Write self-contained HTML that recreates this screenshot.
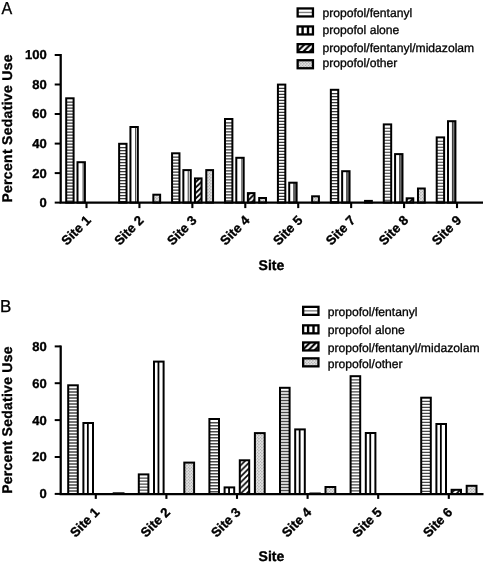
<!DOCTYPE html>
<html lang="en"><head><meta charset="utf-8"><title>Percent Sedative Use by Site</title>
<style>html,body{margin:0;padding:0;background:#fff;}svg{display:block;will-change:transform;transform:translateZ(0);}text{text-rendering:geometricPrecision;}text{font-family:"Liberation Sans", Arial, sans-serif;fill:#000;}.r{stroke:#000;stroke-width:0.3px;}.b{font-weight:bold;stroke:#000;stroke-width:0.35px;}</style>
</head><body>
<svg width="485" height="563" viewBox="0 0 485 563">
<defs>
<pattern id="pda" patternUnits="userSpaceOnUse" x="195.25" y="182.60" width="5.44" height="5.44"><rect width="5.44" height="5.44" fill="#fff"/><path d="M-1.36,1.36 L1.36,-1.36 M0,5.44 L5.44,0 M4.08,6.80 L6.80,4.08" stroke="#000" stroke-width="1.80"/></pattern>
<pattern id="pdb" patternUnits="userSpaceOnUse" x="240.40" y="465.60" width="5.68" height="5.68"><rect width="5.68" height="5.68" fill="#fff"/><path d="M-1.42,1.42 L1.42,-1.42 M0,5.68 L5.68,0 M4.26,7.10 L7.10,4.26" stroke="#000" stroke-width="1.65"/></pattern>
<pattern id="pdla" patternUnits="userSpaceOnUse" x="311.90" y="43.10" width="6.10" height="6.10"><rect width="6.10" height="6.10" fill="#fff"/><path d="M-1.52,1.52 L1.52,-1.52 M0,6.10 L6.10,0 M4.57,7.62 L7.62,4.57" stroke="#000" stroke-width="2.05"/></pattern>
<pattern id="pdlb" patternUnits="userSpaceOnUse" x="317.40" y="341.30" width="6.10" height="6.10"><rect width="6.10" height="6.10" fill="#fff"/><path d="M-1.52,1.52 L1.52,-1.52 M0,6.10 L6.10,0 M4.57,7.62 L7.62,4.57" stroke="#000" stroke-width="2.05"/></pattern>
<pattern id="po" patternUnits="userSpaceOnUse" x="0.3" y="0.2" width="3" height="3"><rect width="3" height="3" fill="#fbfbfb"/><circle cx="0.75" cy="0.75" r="0.72" fill="#7c7c7c"/><circle cx="2.25" cy="2.25" r="0.72" fill="#7c7c7c"/></pattern>
</defs>
<rect width="485" height="563" fill="#fff"/>
<text transform="translate(1.5,13.8) scale(0.93,1)" font-size="17.3" class="r">A</text>
<rect x="66.20" y="98.30" width="7.40" height="104.30" fill="#fdfdfd"/>
<path d="M66.20,102.10h7.40M66.20,105.10h7.40M66.20,108.10h7.40M66.20,111.10h7.40M66.20,114.10h7.40M66.20,117.10h7.40M66.20,120.10h7.40M66.20,123.10h7.40M66.20,126.10h7.40M66.20,129.10h7.40M66.20,132.10h7.40M66.20,135.10h7.40M66.20,138.10h7.40M66.20,141.10h7.40M66.20,144.10h7.40M66.20,147.10h7.40M66.20,150.10h7.40M66.20,153.10h7.40M66.20,156.10h7.40M66.20,159.10h7.40M66.20,162.10h7.40M66.20,165.10h7.40M66.20,168.10h7.40M66.20,171.10h7.40M66.20,174.10h7.40M66.20,177.10h7.40M66.20,180.10h7.40M66.20,183.10h7.40M66.20,186.10h7.40M66.20,189.10h7.40M66.20,192.10h7.40M66.20,195.10h7.40M66.20,198.10h7.40M66.20,201.10h7.40" stroke="#383838" stroke-width="1.15" fill="none"/>
<rect x="66.20" y="98.30" width="7.40" height="104.30" fill="none" stroke="#000" stroke-width="2"/>
<rect x="77.50" y="162.20" width="7.40" height="40.40" fill="#fff"/>
<rect x="82.60" y="162.20" width="1.00" height="40.40" fill="#333"/>
<rect x="77.50" y="162.20" width="7.40" height="40.40" fill="none" stroke="#000" stroke-width="2"/>
<rect x="119.13" y="143.80" width="7.40" height="58.80" fill="#fdfdfd"/>
<path d="M119.13,147.60h7.40M119.13,150.60h7.40M119.13,153.60h7.40M119.13,156.60h7.40M119.13,159.60h7.40M119.13,162.60h7.40M119.13,165.60h7.40M119.13,168.60h7.40M119.13,171.60h7.40M119.13,174.60h7.40M119.13,177.60h7.40M119.13,180.60h7.40M119.13,183.60h7.40M119.13,186.60h7.40M119.13,189.60h7.40M119.13,192.60h7.40M119.13,195.60h7.40M119.13,198.60h7.40M119.13,201.60h7.40" stroke="#383838" stroke-width="1.15" fill="none"/>
<rect x="119.13" y="143.80" width="7.40" height="58.80" fill="none" stroke="#000" stroke-width="2"/>
<rect x="130.43" y="127.00" width="7.40" height="75.60" fill="#fff"/>
<rect x="135.13" y="127.00" width="1.00" height="75.60" fill="#333"/>
<rect x="130.43" y="127.00" width="7.40" height="75.60" fill="none" stroke="#000" stroke-width="2"/>
<rect x="153.33" y="194.70" width="6.80" height="7.90" fill="url(#po)" stroke="#000" stroke-width="2"/>
<rect x="172.06" y="153.30" width="7.40" height="49.30" fill="#fdfdfd"/>
<path d="M172.06,157.10h7.40M172.06,160.10h7.40M172.06,163.10h7.40M172.06,166.10h7.40M172.06,169.10h7.40M172.06,172.10h7.40M172.06,175.10h7.40M172.06,178.10h7.40M172.06,181.10h7.40M172.06,184.10h7.40M172.06,187.10h7.40M172.06,190.10h7.40M172.06,193.10h7.40M172.06,196.10h7.40M172.06,199.10h7.40M172.06,202.10h7.40" stroke="#383838" stroke-width="1.15" fill="none"/>
<rect x="172.06" y="153.30" width="7.40" height="49.30" fill="none" stroke="#000" stroke-width="2"/>
<rect x="183.36" y="170.10" width="7.40" height="32.50" fill="#fff"/>
<rect x="187.71" y="170.10" width="1.00" height="32.50" fill="#333"/>
<rect x="183.36" y="170.10" width="7.40" height="32.50" fill="none" stroke="#000" stroke-width="2"/>
<rect x="194.96" y="178.40" width="6.60" height="24.20" fill="url(#pda)" stroke="#000" stroke-width="2"/>
<rect x="206.26" y="170.10" width="6.80" height="32.50" fill="url(#po)" stroke="#000" stroke-width="2"/>
<rect x="224.99" y="119.00" width="7.40" height="83.60" fill="#fdfdfd"/>
<path d="M224.99,122.80h7.40M224.99,125.80h7.40M224.99,128.80h7.40M224.99,131.80h7.40M224.99,134.80h7.40M224.99,137.80h7.40M224.99,140.80h7.40M224.99,143.80h7.40M224.99,146.80h7.40M224.99,149.80h7.40M224.99,152.80h7.40M224.99,155.80h7.40M224.99,158.80h7.40M224.99,161.80h7.40M224.99,164.80h7.40M224.99,167.80h7.40M224.99,170.80h7.40M224.99,173.80h7.40M224.99,176.80h7.40M224.99,179.80h7.40M224.99,182.80h7.40M224.99,185.80h7.40M224.99,188.80h7.40M224.99,191.80h7.40M224.99,194.80h7.40M224.99,197.80h7.40M224.99,200.80h7.40" stroke="#383838" stroke-width="1.15" fill="none"/>
<rect x="224.99" y="119.00" width="7.40" height="83.60" fill="none" stroke="#000" stroke-width="2"/>
<rect x="236.29" y="157.80" width="7.40" height="44.80" fill="#fff"/>
<rect x="241.39" y="157.80" width="1.00" height="44.80" fill="#333"/>
<rect x="236.29" y="157.80" width="7.40" height="44.80" fill="none" stroke="#000" stroke-width="2"/>
<rect x="247.89" y="193.10" width="6.60" height="9.50" fill="url(#pda)" stroke="#000" stroke-width="2"/>
<rect x="259.19" y="198.00" width="6.80" height="4.60" fill="url(#po)" stroke="#000" stroke-width="2"/>
<rect x="277.92" y="84.60" width="7.40" height="118.00" fill="#fdfdfd"/>
<path d="M277.92,88.40h7.40M277.92,91.40h7.40M277.92,94.40h7.40M277.92,97.40h7.40M277.92,100.40h7.40M277.92,103.40h7.40M277.92,106.40h7.40M277.92,109.40h7.40M277.92,112.40h7.40M277.92,115.40h7.40M277.92,118.40h7.40M277.92,121.40h7.40M277.92,124.40h7.40M277.92,127.40h7.40M277.92,130.40h7.40M277.92,133.40h7.40M277.92,136.40h7.40M277.92,139.40h7.40M277.92,142.40h7.40M277.92,145.40h7.40M277.92,148.40h7.40M277.92,151.40h7.40M277.92,154.40h7.40M277.92,157.40h7.40M277.92,160.40h7.40M277.92,163.40h7.40M277.92,166.40h7.40M277.92,169.40h7.40M277.92,172.40h7.40M277.92,175.40h7.40M277.92,178.40h7.40M277.92,181.40h7.40M277.92,184.40h7.40M277.92,187.40h7.40M277.92,190.40h7.40M277.92,193.40h7.40M277.92,196.40h7.40M277.92,199.40h7.40M277.92,202.40h7.40" stroke="#383838" stroke-width="1.15" fill="none"/>
<rect x="277.92" y="84.60" width="7.40" height="118.00" fill="none" stroke="#000" stroke-width="2"/>
<rect x="289.22" y="182.70" width="7.40" height="19.90" fill="#fff"/>
<rect x="293.82" y="182.70" width="2.80" height="19.90" fill="#777"/>
<rect x="293.32" y="182.70" width="1.00" height="19.90" fill="#333"/>
<rect x="289.22" y="182.70" width="7.40" height="19.90" fill="none" stroke="#000" stroke-width="2"/>
<rect x="312.12" y="196.30" width="6.80" height="6.30" fill="url(#po)" stroke="#000" stroke-width="2"/>
<rect x="330.85" y="89.80" width="7.40" height="112.80" fill="#fdfdfd"/>
<path d="M330.85,93.60h7.40M330.85,96.60h7.40M330.85,99.60h7.40M330.85,102.60h7.40M330.85,105.60h7.40M330.85,108.60h7.40M330.85,111.60h7.40M330.85,114.60h7.40M330.85,117.60h7.40M330.85,120.60h7.40M330.85,123.60h7.40M330.85,126.60h7.40M330.85,129.60h7.40M330.85,132.60h7.40M330.85,135.60h7.40M330.85,138.60h7.40M330.85,141.60h7.40M330.85,144.60h7.40M330.85,147.60h7.40M330.85,150.60h7.40M330.85,153.60h7.40M330.85,156.60h7.40M330.85,159.60h7.40M330.85,162.60h7.40M330.85,165.60h7.40M330.85,168.60h7.40M330.85,171.60h7.40M330.85,174.60h7.40M330.85,177.60h7.40M330.85,180.60h7.40M330.85,183.60h7.40M330.85,186.60h7.40M330.85,189.60h7.40M330.85,192.60h7.40M330.85,195.60h7.40M330.85,198.60h7.40M330.85,201.60h7.40" stroke="#383838" stroke-width="1.15" fill="none"/>
<rect x="330.85" y="89.80" width="7.40" height="112.80" fill="none" stroke="#000" stroke-width="2"/>
<rect x="342.15" y="171.20" width="7.40" height="31.40" fill="#fff"/>
<rect x="346.75" y="171.20" width="2.80" height="31.40" fill="#777"/>
<rect x="346.25" y="171.20" width="1.00" height="31.40" fill="#333"/>
<rect x="342.15" y="171.20" width="7.40" height="31.40" fill="none" stroke="#000" stroke-width="2"/>
<rect x="365.05" y="200.90" width="6.80" height="1.70" fill="url(#po)" stroke="#000" stroke-width="2"/>
<rect x="383.78" y="124.40" width="7.40" height="78.20" fill="#fdfdfd"/>
<path d="M383.78,128.20h7.40M383.78,131.20h7.40M383.78,134.20h7.40M383.78,137.20h7.40M383.78,140.20h7.40M383.78,143.20h7.40M383.78,146.20h7.40M383.78,149.20h7.40M383.78,152.20h7.40M383.78,155.20h7.40M383.78,158.20h7.40M383.78,161.20h7.40M383.78,164.20h7.40M383.78,167.20h7.40M383.78,170.20h7.40M383.78,173.20h7.40M383.78,176.20h7.40M383.78,179.20h7.40M383.78,182.20h7.40M383.78,185.20h7.40M383.78,188.20h7.40M383.78,191.20h7.40M383.78,194.20h7.40M383.78,197.20h7.40M383.78,200.20h7.40" stroke="#383838" stroke-width="1.15" fill="none"/>
<rect x="383.78" y="124.40" width="7.40" height="78.20" fill="none" stroke="#000" stroke-width="2"/>
<rect x="395.08" y="154.10" width="7.40" height="48.50" fill="#fff"/>
<rect x="399.68" y="154.10" width="2.80" height="48.50" fill="#777"/>
<rect x="399.18" y="154.10" width="1.00" height="48.50" fill="#333"/>
<rect x="395.08" y="154.10" width="7.40" height="48.50" fill="none" stroke="#000" stroke-width="2"/>
<rect x="406.68" y="198.30" width="6.60" height="4.30" fill="url(#pda)" stroke="#000" stroke-width="2"/>
<rect x="417.98" y="188.50" width="6.80" height="14.10" fill="url(#po)" stroke="#000" stroke-width="2"/>
<rect x="436.71" y="137.40" width="7.40" height="65.20" fill="#fdfdfd"/>
<path d="M436.71,141.20h7.40M436.71,144.20h7.40M436.71,147.20h7.40M436.71,150.20h7.40M436.71,153.20h7.40M436.71,156.20h7.40M436.71,159.20h7.40M436.71,162.20h7.40M436.71,165.20h7.40M436.71,168.20h7.40M436.71,171.20h7.40M436.71,174.20h7.40M436.71,177.20h7.40M436.71,180.20h7.40M436.71,183.20h7.40M436.71,186.20h7.40M436.71,189.20h7.40M436.71,192.20h7.40M436.71,195.20h7.40M436.71,198.20h7.40M436.71,201.20h7.40" stroke="#383838" stroke-width="1.15" fill="none"/>
<rect x="436.71" y="137.40" width="7.40" height="65.20" fill="none" stroke="#000" stroke-width="2"/>
<rect x="448.01" y="121.20" width="7.40" height="81.40" fill="#fff"/>
<rect x="452.41" y="121.20" width="3.00" height="81.40" fill="#777"/>
<rect x="451.91" y="121.20" width="1.00" height="81.40" fill="#333"/>
<rect x="448.01" y="121.20" width="7.40" height="81.40" fill="none" stroke="#000" stroke-width="2"/>
<path d="M60.70,54.00 V202.60 H483.00" fill="none" stroke="#000" stroke-width="2.25" stroke-linejoin="miter"/>
<path d="M54.70,202.60 H60.70" stroke="#000" stroke-width="2"/>
<text x="46.8" y="207.00" font-size="13" class="b" text-anchor="end">0</text>
<path d="M54.70,173.10 H60.70" stroke="#000" stroke-width="2"/>
<text x="46.8" y="177.50" font-size="13" class="b" text-anchor="end">20</text>
<path d="M54.70,143.60 H60.70" stroke="#000" stroke-width="2"/>
<text x="46.8" y="148.00" font-size="13" class="b" text-anchor="end">40</text>
<path d="M54.70,114.00 H60.70" stroke="#000" stroke-width="2"/>
<text x="46.8" y="118.40" font-size="13" class="b" text-anchor="end">60</text>
<path d="M54.70,84.50 H60.70" stroke="#000" stroke-width="2"/>
<text x="46.8" y="88.90" font-size="13" class="b" text-anchor="end">80</text>
<path d="M54.70,55.00 H60.70" stroke="#000" stroke-width="2"/>
<text x="46.8" y="59.40" font-size="13" class="b" text-anchor="end">100</text>
<path d="M86.50,202.60 V208.10" stroke="#000" stroke-width="2.1"/>
<text transform="translate(91.60,221.10) rotate(-45)" font-size="13.2" class="b" text-anchor="end">Site 1</text>
<path d="M139.43,202.60 V208.10" stroke="#000" stroke-width="2.1"/>
<text transform="translate(144.53,221.10) rotate(-45)" font-size="13.2" class="b" text-anchor="end">Site 2</text>
<path d="M192.36,202.60 V208.10" stroke="#000" stroke-width="2.1"/>
<text transform="translate(197.46,221.10) rotate(-45)" font-size="13.2" class="b" text-anchor="end">Site 3</text>
<path d="M245.29,202.60 V208.10" stroke="#000" stroke-width="2.1"/>
<text transform="translate(250.39,221.10) rotate(-45)" font-size="13.2" class="b" text-anchor="end">Site 4</text>
<path d="M298.22,202.60 V208.10" stroke="#000" stroke-width="2.1"/>
<text transform="translate(303.32,221.10) rotate(-45)" font-size="13.2" class="b" text-anchor="end">Site 5</text>
<path d="M351.15,202.60 V208.10" stroke="#000" stroke-width="2.1"/>
<text transform="translate(356.25,221.10) rotate(-45)" font-size="13.2" class="b" text-anchor="end">Site 7</text>
<path d="M404.08,202.60 V208.10" stroke="#000" stroke-width="2.1"/>
<text transform="translate(409.18,221.10) rotate(-45)" font-size="13.2" class="b" text-anchor="end">Site 8</text>
<path d="M457.01,202.60 V208.10" stroke="#000" stroke-width="2.1"/>
<text transform="translate(462.11,221.10) rotate(-45)" font-size="13.2" class="b" text-anchor="end">Site 9</text>
<text transform="translate(12.30,128.40) rotate(-90)" font-size="14" class="b" text-anchor="middle" letter-spacing="0.30">Percent Sedative Use</text>
<text x="258.60" y="270.30" font-size="14" class="b">Site</text>
<rect x="297.65" y="8.45" width="15.30" height="8.00" fill="#fff"/>
<path d="M297.65,12.45 h15.30" stroke="#808080" stroke-width="1.4"/>
<rect x="297.65" y="8.45" width="15.30" height="8.00" fill="none" stroke="#000" stroke-width="2.30"/>
<text x="322.40" y="16.60" font-size="12.15" class="r">propofol/fentanyl</text>
<rect x="297.65" y="26.45" width="15.30" height="8.00" fill="#fff"/>
<rect x="301.40" y="26.45" width="2.4" height="8.00" fill="#000"/>
<rect x="306.80" y="26.45" width="2.4" height="8.00" fill="#000"/>
<rect x="297.65" y="26.45" width="15.30" height="8.00" fill="none" stroke="#000" stroke-width="2.30"/>
<text x="322.40" y="33.80" font-size="12.15" class="r">propofol alone</text>
<rect x="297.65" y="44.15" width="15.30" height="8.00" fill="url(#pdla)"/>
<rect x="297.65" y="44.15" width="15.30" height="8.00" fill="none" stroke="#000" stroke-width="2.30"/>
<text x="322.40" y="51.80" font-size="12.15" class="r">propofol/fentanyl/midazolam</text>
<rect x="297.65" y="60.25" width="15.30" height="8.00" fill="url(#po)"/>
<rect x="297.65" y="60.25" width="15.30" height="8.00" fill="none" stroke="#000" stroke-width="2.30"/>
<text x="322.40" y="67.40" font-size="12.15" class="r">propofol/other</text>
<text transform="translate(0.1,312.4) scale(0.98,1)" font-size="17.3" class="r">B</text>
<rect x="68.20" y="385.30" width="9.60" height="108.70" fill="#fdfdfd"/>
<path d="M68.20,389.00h9.60M68.20,392.00h9.60M68.20,395.00h9.60M68.20,398.00h9.60M68.20,401.00h9.60M68.20,404.00h9.60M68.20,407.00h9.60M68.20,410.00h9.60M68.20,413.00h9.60M68.20,416.00h9.60M68.20,419.00h9.60M68.20,422.00h9.60M68.20,425.00h9.60M68.20,428.00h9.60M68.20,431.00h9.60M68.20,434.00h9.60M68.20,437.00h9.60M68.20,440.00h9.60M68.20,443.00h9.60M68.20,446.00h9.60M68.20,449.00h9.60M68.20,452.00h9.60M68.20,455.00h9.60M68.20,458.00h9.60M68.20,461.00h9.60M68.20,464.00h9.60M68.20,467.00h9.60M68.20,470.00h9.60M68.20,473.00h9.60M68.20,476.00h9.60M68.20,479.00h9.60M68.20,482.00h9.60M68.20,485.00h9.60M68.20,488.00h9.60M68.20,491.00h9.60" stroke="#4a4a4a" stroke-width="1.35" fill="none"/>
<rect x="68.20" y="385.30" width="9.60" height="108.70" fill="none" stroke="#000" stroke-width="2"/>
<rect x="83.40" y="423.00" width="9.60" height="71.00" fill="#fff"/>
<rect x="86.95" y="423.00" width="1.80" height="71.00" fill="#000"/>
<rect x="83.40" y="423.00" width="9.60" height="71.00" fill="none" stroke="#000" stroke-width="2"/>
<rect x="113.70" y="493.30" width="9.80" height="0.70" fill="url(#po)" stroke="#000" stroke-width="2"/>
<rect x="138.80" y="474.40" width="9.60" height="19.60" fill="#fdfdfd"/>
<path d="M138.80,478.10h9.60M138.80,481.10h9.60M138.80,484.10h9.60M138.80,487.10h9.60M138.80,490.10h9.60M138.80,493.10h9.60" stroke="#4a4a4a" stroke-width="1.35" fill="none"/>
<rect x="138.80" y="474.40" width="9.60" height="19.60" fill="none" stroke="#000" stroke-width="2"/>
<rect x="154.00" y="361.60" width="9.60" height="132.40" fill="#fff"/>
<rect x="157.55" y="361.60" width="1.80" height="132.40" fill="#000"/>
<rect x="154.00" y="361.60" width="9.60" height="132.40" fill="none" stroke="#000" stroke-width="2"/>
<rect x="184.30" y="462.60" width="9.80" height="31.40" fill="url(#po)" stroke="#000" stroke-width="2"/>
<rect x="209.40" y="419.00" width="9.60" height="75.00" fill="#fdfdfd"/>
<path d="M209.40,422.70h9.60M209.40,425.70h9.60M209.40,428.70h9.60M209.40,431.70h9.60M209.40,434.70h9.60M209.40,437.70h9.60M209.40,440.70h9.60M209.40,443.70h9.60M209.40,446.70h9.60M209.40,449.70h9.60M209.40,452.70h9.60M209.40,455.70h9.60M209.40,458.70h9.60M209.40,461.70h9.60M209.40,464.70h9.60M209.40,467.70h9.60M209.40,470.70h9.60M209.40,473.70h9.60M209.40,476.70h9.60M209.40,479.70h9.60M209.40,482.70h9.60M209.40,485.70h9.60M209.40,488.70h9.60M209.40,491.70h9.60" stroke="#4a4a4a" stroke-width="1.35" fill="none"/>
<rect x="209.40" y="419.00" width="9.60" height="75.00" fill="none" stroke="#000" stroke-width="2"/>
<rect x="224.60" y="487.40" width="9.60" height="6.60" fill="#fff"/>
<rect x="228.15" y="487.40" width="1.80" height="6.60" fill="#000"/>
<rect x="224.60" y="487.40" width="9.60" height="6.60" fill="none" stroke="#000" stroke-width="2"/>
<rect x="239.80" y="460.30" width="9.40" height="33.70" fill="url(#pdb)" stroke="#000" stroke-width="2"/>
<rect x="254.90" y="433.10" width="9.80" height="60.90" fill="url(#po)" stroke="#000" stroke-width="2"/>
<rect x="280.00" y="387.80" width="9.60" height="106.20" fill="#fdfdfd"/>
<path d="M280.00,391.50h9.60M280.00,394.50h9.60M280.00,397.50h9.60M280.00,400.50h9.60M280.00,403.50h9.60M280.00,406.50h9.60M280.00,409.50h9.60M280.00,412.50h9.60M280.00,415.50h9.60M280.00,418.50h9.60M280.00,421.50h9.60M280.00,424.50h9.60M280.00,427.50h9.60M280.00,430.50h9.60M280.00,433.50h9.60M280.00,436.50h9.60M280.00,439.50h9.60M280.00,442.50h9.60M280.00,445.50h9.60M280.00,448.50h9.60M280.00,451.50h9.60M280.00,454.50h9.60M280.00,457.50h9.60M280.00,460.50h9.60M280.00,463.50h9.60M280.00,466.50h9.60M280.00,469.50h9.60M280.00,472.50h9.60M280.00,475.50h9.60M280.00,478.50h9.60M280.00,481.50h9.60M280.00,484.50h9.60M280.00,487.50h9.60M280.00,490.50h9.60M280.00,493.50h9.60" stroke="#4a4a4a" stroke-width="1.35" fill="none"/>
<rect x="280.00" y="387.80" width="9.60" height="106.20" fill="none" stroke="#000" stroke-width="2"/>
<rect x="295.20" y="429.40" width="9.60" height="64.60" fill="#fff"/>
<rect x="298.75" y="429.40" width="1.80" height="64.60" fill="#000"/>
<rect x="295.20" y="429.40" width="9.60" height="64.60" fill="none" stroke="#000" stroke-width="2"/>
<rect x="310.40" y="493.50" width="9.40" height="0.50" fill="url(#pdb)" stroke="#000" stroke-width="2"/>
<rect x="325.50" y="487.00" width="9.80" height="7.00" fill="url(#po)" stroke="#000" stroke-width="2"/>
<rect x="350.60" y="376.20" width="9.60" height="117.80" fill="#fdfdfd"/>
<path d="M350.60,379.90h9.60M350.60,382.90h9.60M350.60,385.90h9.60M350.60,388.90h9.60M350.60,391.90h9.60M350.60,394.90h9.60M350.60,397.90h9.60M350.60,400.90h9.60M350.60,403.90h9.60M350.60,406.90h9.60M350.60,409.90h9.60M350.60,412.90h9.60M350.60,415.90h9.60M350.60,418.90h9.60M350.60,421.90h9.60M350.60,424.90h9.60M350.60,427.90h9.60M350.60,430.90h9.60M350.60,433.90h9.60M350.60,436.90h9.60M350.60,439.90h9.60M350.60,442.90h9.60M350.60,445.90h9.60M350.60,448.90h9.60M350.60,451.90h9.60M350.60,454.90h9.60M350.60,457.90h9.60M350.60,460.90h9.60M350.60,463.90h9.60M350.60,466.90h9.60M350.60,469.90h9.60M350.60,472.90h9.60M350.60,475.90h9.60M350.60,478.90h9.60M350.60,481.90h9.60M350.60,484.90h9.60M350.60,487.90h9.60M350.60,490.90h9.60M350.60,493.90h9.60" stroke="#4a4a4a" stroke-width="1.35" fill="none"/>
<rect x="350.60" y="376.20" width="9.60" height="117.80" fill="none" stroke="#000" stroke-width="2"/>
<rect x="365.80" y="433.00" width="9.60" height="61.00" fill="#fff"/>
<rect x="369.35" y="433.00" width="1.80" height="61.00" fill="#000"/>
<rect x="365.80" y="433.00" width="9.60" height="61.00" fill="none" stroke="#000" stroke-width="2"/>
<rect x="421.20" y="397.70" width="9.60" height="96.30" fill="#fdfdfd"/>
<path d="M421.20,401.40h9.60M421.20,404.40h9.60M421.20,407.40h9.60M421.20,410.40h9.60M421.20,413.40h9.60M421.20,416.40h9.60M421.20,419.40h9.60M421.20,422.40h9.60M421.20,425.40h9.60M421.20,428.40h9.60M421.20,431.40h9.60M421.20,434.40h9.60M421.20,437.40h9.60M421.20,440.40h9.60M421.20,443.40h9.60M421.20,446.40h9.60M421.20,449.40h9.60M421.20,452.40h9.60M421.20,455.40h9.60M421.20,458.40h9.60M421.20,461.40h9.60M421.20,464.40h9.60M421.20,467.40h9.60M421.20,470.40h9.60M421.20,473.40h9.60M421.20,476.40h9.60M421.20,479.40h9.60M421.20,482.40h9.60M421.20,485.40h9.60M421.20,488.40h9.60M421.20,491.40h9.60" stroke="#4a4a4a" stroke-width="1.35" fill="none"/>
<rect x="421.20" y="397.70" width="9.60" height="96.30" fill="none" stroke="#000" stroke-width="2"/>
<rect x="436.40" y="424.00" width="9.60" height="70.00" fill="#fff"/>
<rect x="439.95" y="424.00" width="1.80" height="70.00" fill="#000"/>
<rect x="436.40" y="424.00" width="9.60" height="70.00" fill="none" stroke="#000" stroke-width="2"/>
<rect x="451.60" y="489.80" width="9.40" height="4.20" fill="url(#pdb)" stroke="#000" stroke-width="2"/>
<rect x="466.70" y="485.80" width="9.80" height="8.20" fill="url(#po)" stroke="#000" stroke-width="2"/>
<path d="M60.70,345.40 V494.00 H483.50" fill="none" stroke="#000" stroke-width="2.25" stroke-linejoin="miter"/>
<path d="M54.70,493.90 H60.70" stroke="#000" stroke-width="2"/>
<text x="46.8" y="498.30" font-size="13" class="b" text-anchor="end">0</text>
<path d="M54.70,457.00 H60.70" stroke="#000" stroke-width="2"/>
<text x="46.8" y="461.40" font-size="13" class="b" text-anchor="end">20</text>
<path d="M54.70,420.10 H60.70" stroke="#000" stroke-width="2"/>
<text x="46.8" y="424.50" font-size="13" class="b" text-anchor="end">40</text>
<path d="M54.70,383.20 H60.70" stroke="#000" stroke-width="2"/>
<text x="46.8" y="387.60" font-size="13" class="b" text-anchor="end">60</text>
<path d="M54.70,346.40 H60.70" stroke="#000" stroke-width="2"/>
<text x="46.8" y="350.80" font-size="13" class="b" text-anchor="end">80</text>
<path d="M95.80,494.00 V498.90" stroke="#000" stroke-width="2.1"/>
<text transform="translate(100.30,513.00) rotate(-45)" font-size="13.2" class="b" text-anchor="end">Site 1</text>
<path d="M166.40,494.00 V498.90" stroke="#000" stroke-width="2.1"/>
<text transform="translate(170.90,513.00) rotate(-45)" font-size="13.2" class="b" text-anchor="end">Site 2</text>
<path d="M237.00,494.00 V498.90" stroke="#000" stroke-width="2.1"/>
<text transform="translate(241.50,513.00) rotate(-45)" font-size="13.2" class="b" text-anchor="end">Site 3</text>
<path d="M307.60,494.00 V498.90" stroke="#000" stroke-width="2.1"/>
<text transform="translate(312.10,513.00) rotate(-45)" font-size="13.2" class="b" text-anchor="end">Site 4</text>
<path d="M378.20,494.00 V498.90" stroke="#000" stroke-width="2.1"/>
<text transform="translate(382.70,513.00) rotate(-45)" font-size="13.2" class="b" text-anchor="end">Site 5</text>
<path d="M448.80,494.00 V498.90" stroke="#000" stroke-width="2.1"/>
<text transform="translate(453.30,513.00) rotate(-45)" font-size="13.2" class="b" text-anchor="end">Site 6</text>
<text transform="translate(12.30,420.00) rotate(-90)" font-size="14" class="b" text-anchor="middle" letter-spacing="0.26">Percent Sedative Use</text>
<text x="258.60" y="560.60" font-size="14" class="b">Site</text>
<rect x="303.15" y="306.85" width="15.30" height="8.00" fill="#fff"/>
<path d="M303.15,310.85 h15.30" stroke="#808080" stroke-width="1.4"/>
<rect x="303.15" y="306.85" width="15.30" height="8.00" fill="none" stroke="#000" stroke-width="2.30"/>
<text x="327.70" y="315.60" font-size="12.15" class="r">propofol/fentanyl</text>
<rect x="303.15" y="325.35" width="15.30" height="8.00" fill="#fff"/>
<rect x="306.90" y="325.35" width="2.4" height="8.00" fill="#000"/>
<rect x="312.30" y="325.35" width="2.4" height="8.00" fill="#000"/>
<rect x="303.15" y="325.35" width="15.30" height="8.00" fill="none" stroke="#000" stroke-width="2.30"/>
<text x="327.70" y="334.20" font-size="12.15" class="r">propofol alone</text>
<rect x="303.15" y="342.45" width="15.30" height="8.00" fill="url(#pdlb)"/>
<rect x="303.15" y="342.45" width="15.30" height="8.00" fill="none" stroke="#000" stroke-width="2.30"/>
<text x="327.70" y="352.10" font-size="12.15" class="r">propofol/fentanyl/midazolam</text>
<rect x="303.15" y="358.35" width="15.30" height="8.00" fill="url(#po)"/>
<rect x="303.15" y="358.35" width="15.30" height="8.00" fill="none" stroke="#000" stroke-width="2.30"/>
<text x="327.70" y="368.00" font-size="12.15" class="r">propofol/other</text>
</svg>
</body></html>
